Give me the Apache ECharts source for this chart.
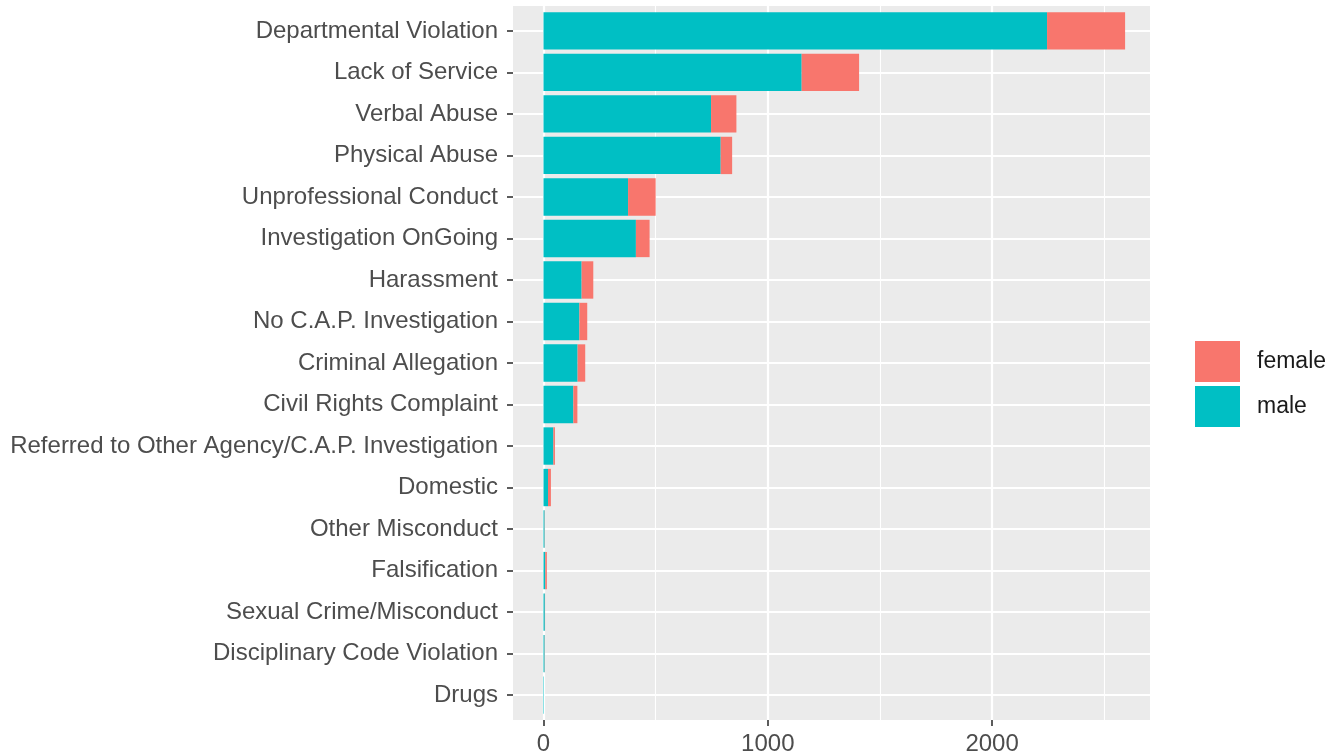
<!DOCTYPE html>
<html>
<head>
<meta charset="utf-8">
<script src="https://cdn.jsdelivr.net/npm/echarts@6/dist/echarts.min.js"></script>
<style>
html,body{margin:0;padding:0;background:#fff;}
#chart{width:1336px;height:756px;}
</style>
</head>
<body>
<div id="chart"></div>
<script>
// ---- data ----
const categories = [
  "Departmental Violation",
  "Lack of Service",
  "Verbal Abuse",
  "Physical Abuse",
  "Unprofessional Conduct",
  "Investigation OnGoing",
  "Harassment",
  "No C.A.P. Investigation",
  "Criminal Allegation",
  "Civil Rights Complaint",
  "Referred to Other Agency/C.A.P. Investigation",
  "Domestic",
  "Other Misconduct",
  "Falsification",
  "Sexual Crime/Misconduct",
  "Disciplinary Code Violation",
  "Drugs"
];
const maleValues   = [2245, 1151, 747, 790, 377, 412, 170, 160, 152, 133, 44, 20, 5, 8, 6, 5, 2];
const femaleValues = [348, 256, 113, 51, 123, 61, 52, 35, 34, 18, 7, 13, 1, 7, 1, 1, 0];
const xMajorTicks = [0, 1000, 2000];
const xMinorTicks = [500, 1500, 2500];
const seriesNames = ["female", "male"];

// ---- chart ----
const FONT = "'Liberation Sans', Arial, sans-serif";
const X_MIN = -136, X_MAX = 2704;
const rowIdx = categories.map((_, i) => i);

const chart = echarts.init(document.getElementById('chart'), null, {renderer: 'canvas'});
chart.setOption({
  animation: false,
  backgroundColor: '#ffffff',
  textStyle: {fontFamily: FONT},
  grid: [
    {left: 513, right: 186, top: 6, bottom: 36, show: true, backgroundColor: '#EBEBEB', borderWidth: 0},
    {left: 513, right: 186, top: 10.15, bottom: 40.15, show: false}
  ],
  xAxis: [
    {
      gridIndex: 0, type: 'value', min: X_MIN, max: X_MAX, position: 'bottom',
      axisLine: {show: false, onZero: false},
      axisTick: {show: true, length: 6, customValues: xMajorTicks, lineStyle: {color: '#333333', width: 1.6}},
      axisLabel: {show: true, customValues: xMajorTicks, margin: 8, fontSize: 24, color: '#4D4D4D', fontFamily: FONT,
                  padding: [4, 0, 0, 0], formatter: v => String(v)},
      splitLine: {show: true, lineStyle: {color: '#FFFFFF', width: 2.2}}
    },
    {
      gridIndex: 0, type: 'value', min: X_MIN, max: X_MAX, position: 'top',
      axisLine: {show: false, onZero: false},
      axisTick: {show: false, customValues: xMinorTicks},
      axisLabel: {show: false},
      splitLine: {show: true, lineStyle: {color: '#FFFFFF', width: 1.1}}
    },
    {
      gridIndex: 1, type: 'value', min: X_MIN, max: X_MAX, show: false,
      axisLine: {onZero: false},
      splitLine: {show: false}
    }
  ],
  yAxis: [
    {
      gridIndex: 0, type: 'value', inverse: true, min: -0.6, max: categories.length - 1 + 0.6,
      axisLine: {show: false, onZero: false},
      axisTick: {show: false, customValues: rowIdx},
      axisLabel: {show: false},
      splitLine: {show: true, lineStyle: {color: '#FFFFFF', width: 2.2}}
    },
    {
      gridIndex: 1, type: 'category', inverse: true, data: categories, position: 'left',
      axisLine: {show: false, onZero: false},
      axisTick: {show: true, alignWithLabel: true, length: 6, lineStyle: {color: '#333333', width: 1.6}},
      axisLabel: {margin: 15, fontSize: 24, color: '#4D4D4D', fontFamily: FONT, interval: 0, padding: [6, 0, 0, 0]},
      splitLine: {show: false}
    }
  ],
  legend: {
    orient: 'vertical', left: 1190, top: 336,
    itemWidth: 45, itemHeight: 41, itemGap: 4, icon: 'rect',
    data: seriesNames,
    textStyle: {fontSize: 23, color: '#1A1A1A', fontFamily: FONT, padding: [0, 0, 0, 12]}
  },
  series: [
    {
      name: 'male', type: 'bar', stack: 'total', xAxisIndex: 2, yAxisIndex: 1,
      barCategoryGap: '10%', data: maleValues,
      itemStyle: {color: '#00BFC4'}
    },
    {
      name: 'female', type: 'bar', stack: 'total', xAxisIndex: 2, yAxisIndex: 1,
      barCategoryGap: '10%', data: femaleValues,
      itemStyle: {color: '#F8766D'}
    }
  ]
});
</script>
</body>
</html>
